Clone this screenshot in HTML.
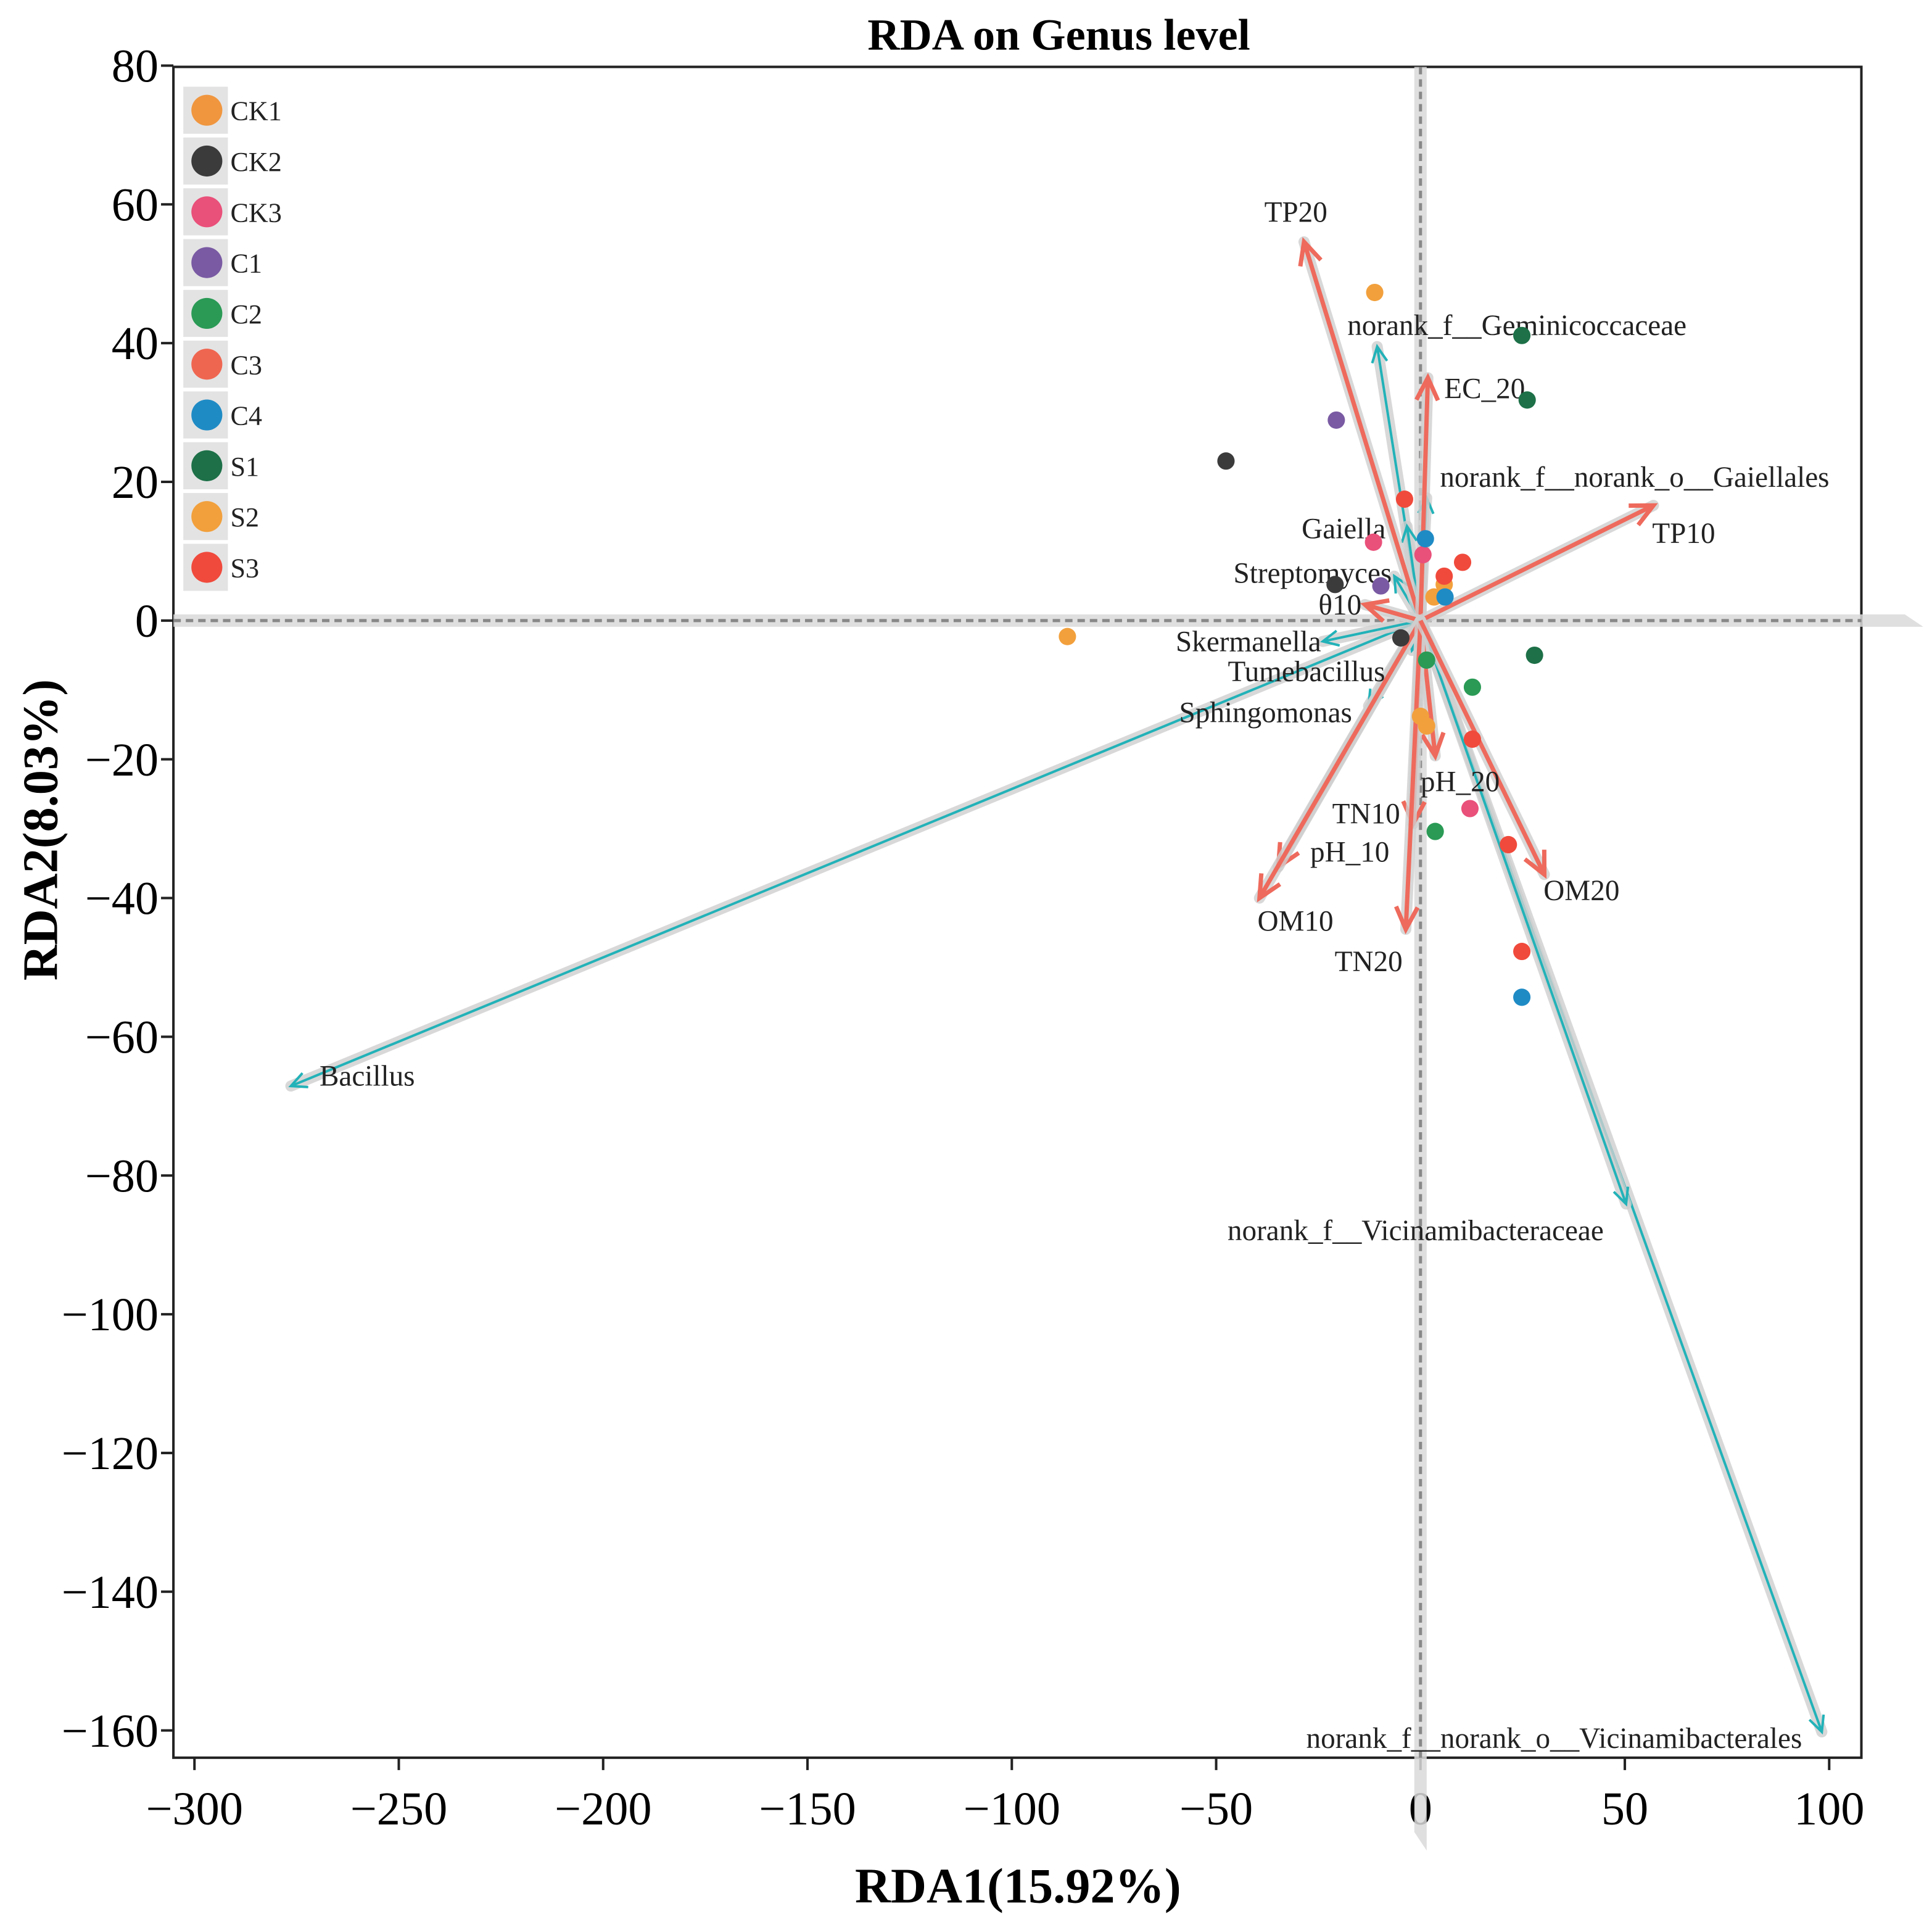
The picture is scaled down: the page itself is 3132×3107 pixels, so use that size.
<!DOCTYPE html>
<html><head><meta charset="utf-8"><style>
html,body{margin:0;padding:0;background:#fff}
svg{display:block}
text{font-family:"Liberation Serif",serif}
</style></head><body>
<svg id="chart" width="3132" height="3107" viewBox="0 0 1560 1547.6" xmlns="http://www.w3.org/2000/svg">
<g id="bg"></g>
<text x="855" y="40" text-anchor="middle" font-size="36" font-weight="bold">RDA on Genus level</text>
<text x="822" y="1536" text-anchor="middle" font-size="40" font-weight="bold">RDA1(15.92%)</text>
<text transform="translate(46,670) rotate(-90)" text-anchor="middle" font-size="40" font-weight="bold">RDA2(8.03%)</text>
<g id="axes"></g>
<g id="bands"></g>
<g id="arrows"></g>
<g id="points"></g>
<g id="legend"></g>
</svg>
<script>
const xTicks=[-300,-250,-200,-150,-100,-50,0,50,100];
const yTicks=[80,60,40,20,0,-20,-40,-60,-80,-100,-120,-140,-160];
const groups=['CK1','CK2','CK3','C1','C2','C3','C4','S1','S2','S3'];
const groupColors=['#f0963f','#3b3b3b','#e9507a','#7a5aa3','#2a9a55','#ef6650','#1f8bc5','#1d7048','#f2a03c','#f04a3c'];
const ptGroup=['CK2','CK2','CK2','C1','C1','S2','S2','S2','S2','S2','S2','S1','S1','S1','C2','C2','C2','S3','S3','S3','S3','S3','S3','CK3','CK3','CK3','C4','C4','C4'];
const ptX=[-47.6,-20.9,-4.8,-20.6,-9.7,-86.4,-11.2,3.3,5.8,0,1.5,24.8,26.1,27.9,1.5,12.7,3.6,-3.9,10.3,5.8,12.7,21.5,24.8,-11.5,0.6,12.1,1.2,6,24.8];
const ptY=[23.0,5.2,-2.5,28.9,5.0,-2.3,47.3,3.4,5.2,-13.8,-15.2,41.1,31.8,-5.0,-5.7,-9.6,-30.4,17.5,8.4,6.4,-17.1,-32.3,-47.7,11.3,9.5,-27.1,11.8,3.4,-54.3];
const envNames=['TP20','EC_20','TP10','θ10','pH_20','TN10','pH_10','OM10','TN20','OM20'];
const envX=[-28.5,1.8,57,-13.6,3.6,-1.8,-34.8,-39.4,-3.6,30.3];
const envY=[54.6,35,16.6,2.3,-19.5,-29.3,-35.5,-40,-44.5,-36.6];
const envLabX=[-30.5,15.7,64.4,-19.7,9.7,-13.3,-17.3,-30.6,-12.7,39.4];
const envLabY=[58.9,33.5,12.6,2.3,-23.2,-27.8,-33.3,-43.3,-49.1,-38.9];
const spNames=['Bacillus','norank_f__norank_o__Vicinamibacterales','norank_f__Vicinamibacteraceae','norank_f__Geminicoccaceae','norank_f__norank_o__Gaiellales','Gaiella','Streptomyces','Skermanella','Tumebacillus','Sphingomonas'];
const spX=[-276.4,98.2,50.3,-10.6,1.5,-3.3,-6.4,-23.9,-2.1,-12.7];
const spY=[-67.1,-160.2,-84.1,39.5,17.7,13.6,6.4,-3.0,-4.3,-12.3];
const spLabX=[-269.4,32.7,-1.2,23.6,52.4,-18.8,-26.4,-42.1,-27.9,-37.9];
const spLabY=[-65.6,-161.1,-87.9,42.6,20.7,13.3,6.9,-3.0,-7.3,-13.2];
const spAnchor=['start','middle','middle','middle','middle','middle','middle','middle','middle','middle'];

const X0=1147,KX=3.3,Y0=501,KY=5.6;
const sx=v=>X0+v*KX, sy=v=>Y0-v*KY;
const NS='http://www.w3.org/2000/svg';
function mk(tag,attrs,parent){const e=document.createElementNS(NS,tag);for(const k in attrs)e.setAttribute(k,attrs[k]);parent.appendChild(e);return e;}
const L=140,R=1503,T=54,B=1419;
const axes=document.getElementById('axes');
let fr=mk('rect',{x:L,y:T,width:R-L,height:B-T,fill:'none',stroke:'#222','stroke-width':2},axes);


xTicks.forEach(v=>{
  let t=mk('line',{x1:sx(v),x2:sx(v),y1:B,y2:B+10,stroke:'#222','stroke-width':2},axes);
  
  
  let s=mk('text',{x:sx(v),y:B+54,'text-anchor':'middle','font-size':38},axes);
  
  
  s.textContent=v<0?'\u2212'+(-v):String(v);
});
yTicks.forEach(v=>{
  let t=mk('line',{x1:L-10,x2:L,y1:sy(v),y2:sy(v),stroke:'#222','stroke-width':2},axes);
  
  
  let s=mk('text',{x:L-12,y:sy(v)+13,'text-anchor':'end','font-size':38},axes);
  
  
  s.textContent=v<0?'\u2212'+(-v):String(v);
});
const bands=document.getElementById('bands');
let vb=mk('polygon',{points:`${sx(0)-5},${T} ${sx(0)+5},${T} ${sx(0)+5},${B+75} ${sx(0)-5},${B+60}`,fill:'#d9d9d9',opacity:0.85},bands);


let hb=mk('polygon',{points:`${L},${sy(0)-5} ${R+35},${sy(0)-5} ${R+50},${sy(0)+5} ${L},${sy(0)+5}`,fill:'#d9d9d9',opacity:0.85},bands);


let vd=mk('line',{x1:sx(0),x2:sx(0),y1:T,y2:B,stroke:'#888','stroke-width':2.5,'stroke-dasharray':'6,4'},bands);


let hd=mk('line',{x1:L,x2:R,y1:sy(0),y2:sy(0),stroke:'#888','stroke-width':2.5,'stroke-dasharray':'6,4'},bands);



const arrows=document.getElementById('arrows');
function arrow(x,y,color,w,head,name){
  const g=mk('g',{},arrows);
  
  
  const x1=sx(0),y1=sy(0),x2=sx(x),y2=sy(y);
  mk('line',{x1:x1,y1:y1,x2:x2,y2:y2,stroke:'#cfcfcf','stroke-width':9,opacity:0.8,'stroke-linecap':'round'},g);
  mk('line',{x1:x1,y1:y1,x2:x2,y2:y2,stroke:color,'stroke-width':w},g);
  const a=Math.atan2(y2-y1,x2-x1);
  const p=(d)=>[x2-head*Math.cos(a+d),y2-head*Math.sin(a+d)];
  const [ax,ay]=p(0.45),[bx,by]=p(-0.45);
  mk('polyline',{points:`${ax},${ay} ${x2},${y2} ${bx},${by}`,fill:'none',stroke:color,'stroke-width':w,'stroke-linejoin':'miter'},g);
}
spNames.forEach((n,i)=>{
  arrow(spX[i],spY[i],'#22b2b8',2,14,'species-arrow-'+n.toLowerCase().replace(/_+/g,'-'));
});
envNames.forEach((n,i)=>{
  arrow(envX[i],envY[i],'#ee6a5c',3.5,20,'env-arrow-'+n.toLowerCase().replace(/_/g,'-'));
});
spNames.forEach((n,i)=>{
  let t=mk('text',{x:sx(spLabX[i]),y:sy(spLabY[i])+8,'text-anchor':spAnchor[i],'font-size':23.5,fill:'#222'},arrows);
  
  
  t.textContent=n;
});
envNames.forEach((n,i)=>{
  let t=mk('text',{x:sx(envLabX[i]),y:sy(envLabY[i])+8,'text-anchor':'middle','font-size':23.5,fill:'#222'},arrows);
  
  
  t.textContent=n;
});
const pts=document.getElementById('points');
ptX.forEach((v,i)=>{
  let c=mk('circle',{cx:sx(v),cy:sy(ptY[i]),r:7,fill:groupColors[groups.indexOf(ptGroup[i])]},pts);
  
  
});
const leg=document.getElementById('legend');
groups.forEach((g,i)=>{
  const y=89+i*41;
  const e=mk('g',{},leg);
  
  
  mk('rect',{x:148,y:y-19,width:36,height:38,fill:'#e3e3e3'},e);
  mk('circle',{cx:167,cy:y,r:12.5,fill:groupColors[i]},e);
  const t=mk('text',{x:186,y:y+8,'font-size':22,fill:'#222'},e);
  t.textContent=g;
});
</script>
</body></html>
